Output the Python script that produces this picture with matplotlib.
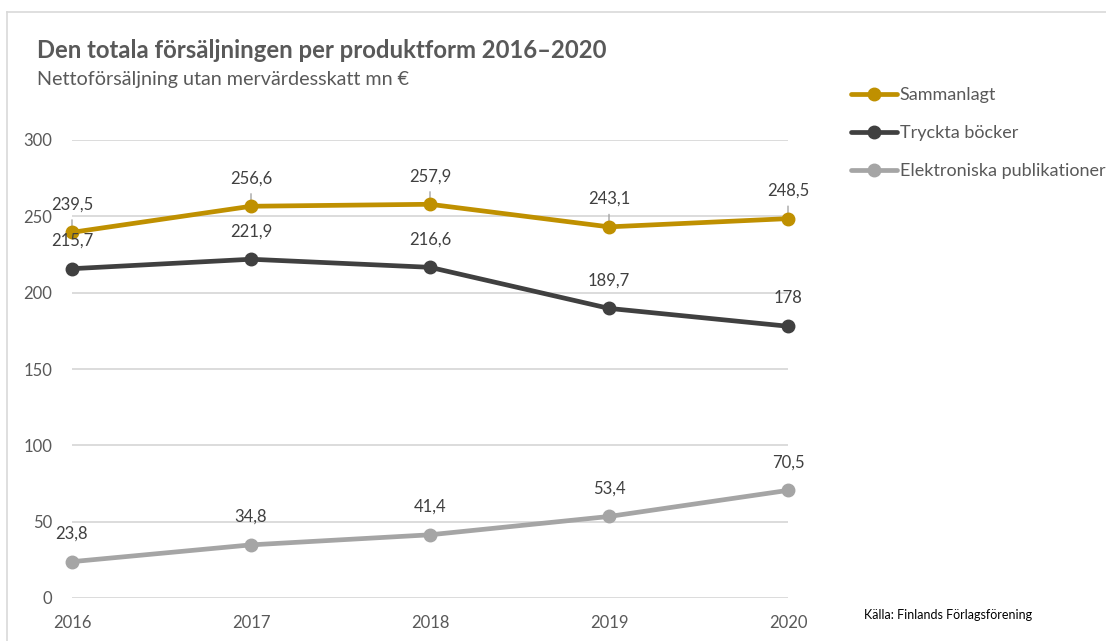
import numpy as np
import matplotlib.pyplot as plt
from matplotlib.lines import Line2D

plt.rcParams['font.family'] = ['Lato', 'DejaVu Sans']

years = [2016, 2017, 2018, 2019, 2020]
series_names = ['Sammanlagt', 'Tryckta böcker', 'Elektroniska publikationer']
sammanlagt = [239.5, 256.6, 257.9, 243.1, 248.5]
tryckta = [215.7, 221.9, 216.6, 189.7, 178]
elektroniska = [23.8, 34.8, 41.4, 53.4, 70.5]
y_ticks = [0, 50, 100, 150, 200, 250, 300]

colors = ['#BF9000', '#404040', '#A5A5A5']
text_col = '#595959'

W, H = 1106, 641
fig = plt.figure(figsize=(W / 100, H / 100), dpi=100)
ax = fig.add_axes([72 / W, 1 - 598 / H, (788 - 72) / W, (598 - 140) / H])

# chart frame (left and top edges visible)
fig.add_artist(Line2D([7 / W, 7 / W], [0, 1 - 12 / H], color='#D9D9D9', lw=1.2))
fig.add_artist(Line2D([7 / W, 1], [1 - 12 / H, 1 - 12 / H], color='#D9D9D9', lw=1.2))

handles = []
for vals, name, col in zip([sammanlagt, tryckta, elektroniska], series_names, colors):
    ln, = ax.plot(years, vals, color=col, lw=3.4, marker='o', ms=9,
                  solid_capstyle='round', clip_on=False, zorder=3, label=name)
    handles.append(ln)
    for x, v in zip(years, vals):
        lab = f'{v:g}'.replace('.', ',')
        ax.annotate(lab, (x, v), xytext=(0, 20), textcoords='offset points',
                    ha='center', va='center', fontsize=12, color='#404040', zorder=5)

# small leader stubs above the total markers
for x, v in zip(years, sammanlagt):
    ax.annotate('', (x, v), xytext=(0, 9), textcoords='offset points',
                arrowprops=dict(arrowstyle='-', color='#A5A5A5', lw=1,
                                shrinkA=0, shrinkB=0), zorder=2)

ax.set_xlim(2016, 2020)
ax.set_ylim(0, 300)
ax.set_xticks(years)
ax.set_yticks(y_ticks)
ax.tick_params(length=0, labelsize=12, labelcolor=text_col)
ax.tick_params(axis='y', pad=14)
ax.tick_params(axis='x', pad=12)
ax.grid(axis='y', color='#D9D9D9', lw=1.3)
ax.set_axisbelow(True)
for s in ax.spines.values():
    s.set_visible(False)

fig.text(37 / W, 1 - 50 / H, 'Den totala försäljningen per produktform 2016–2020',
         fontsize=17.2, fontweight='bold', color=text_col, va='center')
fig.text(37 / W, 1 - 80 / H, 'Nettoförsäljning utan mervärdesskatt mn €',
         fontsize=14.2, color=text_col, va='center')

fig.legend(handles=handles, loc='upper left', bbox_to_anchor=(851 / W, 1 - 87 / H),
           frameon=False, fontsize=13, handlelength=2.55, handletextpad=0.15,
           labelspacing=1.22, borderaxespad=0, borderpad=0, labelcolor=text_col)

fig.text(864 / W, 1 - 615 / H, 'Källa: Finlands Förlagsförening',
         fontsize=9, color='black', va='center')

fig.savefig('out.png', dpi=100, facecolor='white')
